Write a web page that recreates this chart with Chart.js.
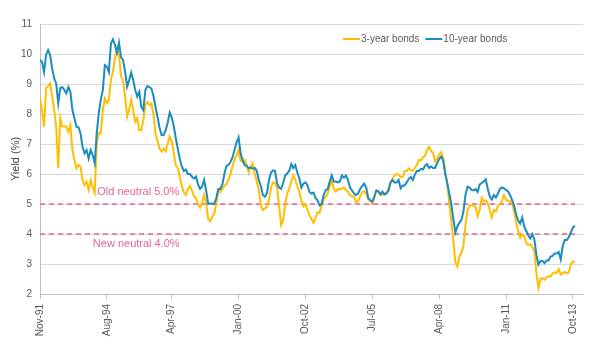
<!DOCTYPE html>
<html lang="en">
<head>
    <meta charset="UTF-8">
    <title>3-year and 10-year bond yields</title>
    <script src="https://cdn.jsdelivr.net/npm/chart.js"></script>
    <style>
        html, body { margin: 0; padding: 0; background: #fff; }
        #wrap { width: 600px; height: 343px; }
    </style>
</head>
<body>
    <div id="wrap"><canvas id="yieldChart" width="600" height="343"></canvas></div>
    <script>
        // months counted from Nov-91 (0) to Nov-13 (264)
        var tickMonths = [0, 33, 65, 98, 131, 164, 197, 230, 263];
        var tickLabels = ['Nov-91', 'Aug-94', 'Apr-97', 'Jan-00', 'Oct-02', 'Jul-05', 'Apr-08', 'Jan-11', 'Oct-13'];

        var tenYear = [
            9.80, 9.74, 9.40, 9.97, 10.13, 9.97, 9.52, 9.19, 9.02, 8.36,
            8.86, 8.90, 8.80, 8.69, 8.90, 8.74, 8.13, 7.86, 7.58, 7.56,
            7.36, 6.91, 6.69, 6.80, 6.52, 6.80, 6.63, 6.36, 7.36, 8.02,
            8.47, 8.80, 9.63, 9.58, 9.40, 10.35, 10.49, 10.30, 10.04, 10.38,
            9.89, 9.80, 9.41, 8.91, 9.13, 9.38, 9.13, 8.80, 8.58, 8.74,
            8.24, 8.13, 8.80, 8.93, 8.90, 8.85, 8.60, 8.24, 7.90, 7.55,
            7.30, 7.30, 7.45, 7.70, 8.05, 7.90, 7.60, 7.20, 6.85, 6.50,
            6.25, 6.10, 6.15, 6.00, 6.00, 5.91, 5.85, 5.91, 5.65, 5.50,
            5.58, 5.80, 5.45, 5.00, 5.02, 5.02, 5.00, 5.20, 5.50, 5.50,
            5.65, 6.00, 6.27, 6.30, 6.40, 6.55, 6.80, 7.05, 7.22, 6.70,
            6.45, 6.30, 6.27, 6.19, 6.22, 6.18, 6.20, 6.10, 5.80, 5.60,
            5.30, 5.24, 5.36, 5.80, 6.05, 6.12, 6.10, 5.70, 5.55, 5.50,
            5.70, 5.95, 6.02, 6.10, 6.33, 6.20, 6.30, 6.05, 5.85, 5.55,
            5.68, 5.72, 5.63, 5.40, 5.35, 5.38, 5.20, 5.12, 4.95, 5.00,
            5.30, 5.46, 5.50, 5.75, 5.95, 5.75, 5.75, 5.72, 5.75, 5.95,
            5.88, 5.95, 5.80, 5.55, 5.45, 5.35, 5.30, 5.35, 5.50, 5.60,
            5.68, 5.55, 5.20, 5.13, 5.08, 5.25, 5.45, 5.42, 5.32, 5.41,
            5.32, 5.35, 5.45, 5.72, 5.80, 5.72, 5.72, 5.80, 5.52, 5.62,
            5.62, 5.72, 5.84, 5.90, 5.80, 5.98, 6.10, 6.10, 6.17, 6.15,
            6.27, 6.33, 6.20, 6.25, 6.20, 6.20, 6.36, 6.50, 6.58, 6.45,
            6.00, 5.70, 5.35, 5.00, 4.50, 4.05, 4.25, 4.38, 4.47, 4.75,
            5.30, 5.58, 5.55, 5.47, 5.45, 5.50, 5.40, 5.65, 5.70, 5.75,
            5.82, 5.50, 5.25, 5.15, 5.30, 5.22, 5.35, 5.50, 5.55, 5.52,
            5.47, 5.42, 5.30, 5.13, 4.95, 4.65, 4.45, 4.35, 4.55, 4.25,
            4.10, 3.95, 3.85, 4.00, 3.82, 3.30, 2.98, 3.10, 3.10, 3.03,
            3.12, 3.12, 3.25, 3.27, 3.35, 3.35, 3.40, 3.15, 3.60, 3.80,
            3.80, 3.90, 4.05, 4.22, 4.27
        ];

        var threeYear = [
            8.52, 8.13, 7.58, 8.86, 8.93, 9.02, 8.58, 8.13, 7.58, 6.19,
            7.86, 7.58, 7.58, 7.58, 7.41, 7.63, 6.80, 6.47, 6.19, 6.30,
            6.24, 5.80, 5.63, 5.74, 5.47, 5.80, 5.58, 5.38, 7.02, 7.36,
            7.36, 8.13, 8.52, 8.36, 8.47, 9.13, 9.41, 9.86, 10.19, 9.97,
            9.24, 9.13, 8.58, 7.91, 8.13, 8.47, 8.13, 7.74, 7.86, 7.47,
            7.47, 7.80, 8.30, 8.40, 8.30, 8.35, 8.00, 7.35, 7.10, 6.85,
            6.75, 6.85, 6.75, 7.00, 7.25, 7.10, 6.69, 6.30, 6.20, 5.90,
            5.60, 5.40, 5.30, 5.50, 5.60, 5.45, 5.25, 5.20, 5.00, 4.88,
            5.05, 5.30, 5.05, 4.50, 4.42, 4.58, 4.66, 5.00, 5.45, 5.40,
            5.50, 5.60, 5.67, 5.80, 6.00, 6.25, 6.50, 6.60, 6.80, 6.45,
            6.40, 6.47, 6.30, 6.05, 6.25, 6.36, 6.00, 5.75, 5.47, 4.95,
            4.80, 4.86, 4.90, 5.13, 5.55, 5.72, 5.70, 5.55, 4.95, 4.30,
            4.45, 5.00, 5.35, 5.50, 5.75, 5.95, 5.80, 5.60, 5.40, 5.10,
            4.92, 5.00, 4.80, 4.62, 4.50, 4.38, 4.55, 4.72, 4.70, 4.95,
            5.15, 5.24, 5.35, 5.60, 5.78, 5.50, 5.41, 5.50, 5.48, 5.52,
            5.55, 5.47, 5.40, 5.30, 5.25, 5.25, 5.05, 5.10, 5.25, 5.40,
            5.42, 5.35, 5.15, 5.10, 5.02, 5.20, 5.45, 5.42, 5.30, 5.30,
            5.35, 5.38, 5.50, 5.72, 5.85, 5.95, 6.00, 5.97, 5.90, 5.90,
            6.10, 6.10, 6.18, 6.13, 6.10, 6.20, 6.30, 6.47, 6.45, 6.55,
            6.60, 6.80, 6.90, 6.78, 6.70, 6.42, 6.50, 6.65, 6.72, 6.55,
            6.10, 5.65, 5.05, 4.40, 3.80, 3.05, 2.91, 3.25, 3.38, 3.60,
            4.30, 4.80, 4.95, 4.95, 4.95, 4.90, 4.60, 4.80, 5.20, 5.08,
            5.13, 5.03, 4.80, 4.55, 4.80, 4.75, 4.93, 5.00, 5.10, 5.30,
            5.13, 5.12, 5.08, 5.03, 4.75, 4.40, 4.10, 3.88, 3.98, 3.92,
            3.70, 3.63, 3.66, 3.55, 3.42, 2.70, 2.20, 2.50, 2.53, 2.47,
            2.55, 2.60, 2.58, 2.68, 2.72, 2.70, 2.83, 2.65, 2.70, 2.74,
            2.69, 2.72, 3.00, 3.07, 3.08
        ];

        var oldNeutral = 5.0;
        var newNeutral = 4.0;

        var gold = '#ffbf00';
        var blue = '#1a8cbe';
        var pink = '#e8629b';
        var grey = '#595959';
        var font = "'Liberation Sans', Arial, sans-serif";

        function toPoints(values) {
            return values.map(function (v, i) { return { x: i, y: v }; });
        }
        function flatLine(v) {
            return [{ x: 0, y: v }, { x: tenYear.length - 1, y: v }];
        }

        // legend + neutral-rate captions
        var extras = {
            id: 'extras',
            afterDatasetsDraw: function (chart) {
                var ctx = chart.ctx;
                var xs = chart.scales.x, ys = chart.scales.y;
                ctx.save();
                ctx.font = '11px ' + font;
                ctx.fillStyle = pink;
                ctx.textAlign = 'center';
                ctx.textBaseline = 'middle';
                ctx.fillText('Old neutral ' + oldNeutral.toFixed(1) + '%', xs.getPixelForValue(48.5), ys.getPixelForValue(5.4));
                ctx.fillText('New neutral ' + newNeutral.toFixed(1) + '%', xs.getPixelForValue(47.5), ys.getPixelForValue(3.67));

                var items = [['3-year bonds', gold], ['10-year bonds', blue]];
                var x = 343, y = 39;
                ctx.font = '10px ' + font;
                ctx.textAlign = 'left';
                items.forEach(function (it) {
                    ctx.strokeStyle = it[1];
                    ctx.lineWidth = 2;
                    ctx.beginPath();
                    ctx.moveTo(x, y);
                    ctx.lineTo(x + 17, y);
                    ctx.stroke();
                    ctx.fillStyle = grey;
                    ctx.fillText(it[0], x + 18, y);
                    x += 18 + ctx.measureText(it[0]).width + 6;
                });
                ctx.restore();
            }
        };

        var ctx = document.getElementById('yieldChart').getContext('2d');
        var chart = new Chart(ctx, {
            type: 'line',
            data: {
                datasets: [
                    { label: '10-year bonds', data: toPoints(tenYear), borderColor: blue, borderWidth: 2, order: 0 },
                    { label: '3-year bonds', data: toPoints(threeYear), borderColor: gold, borderWidth: 2, order: 1 },
                    { label: 'Old neutral', data: flatLine(oldNeutral), borderColor: pink, borderWidth: 1.5, borderDash: [5, 4], order: 2 },
                    { label: 'New neutral', data: flatLine(newNeutral), borderColor: pink, borderWidth: 1.5, borderDash: [5, 4], order: 2 }
                ]
            },
            options: {
                responsive: false,
                animation: false,
                events: [],
                elements: { point: { radius: 0 }, line: { tension: 0, fill: false } },
                layout: { padding: { top: 24, right: 17, left: 0, bottom: 0 } },
                plugins: { legend: { display: false }, tooltip: { enabled: false } },
                scales: {
                    x: {
                        type: 'linear',
                        min: 0,
                        max: 268,
                        afterBuildTicks: function (scale) {
                            scale.ticks = tickMonths.map(function (m) { return { value: m }; });
                        },
                        afterFit: function (scale) { scale.height = 49; },
                        ticks: {
                            autoSkip: false,
                            minRotation: 90,
                            maxRotation: 90,
                            padding: 5,
                            color: grey,
                            font: { family: font, size: 10 },
                            callback: function (v) { return tickLabels[tickMonths.indexOf(v)]; }
                        },
                        grid: { drawOnChartArea: false, drawTicks: true, tickLength: 5, color: '#bfbfbf' },
                        border: { color: '#bfbfbf' }
                    },
                    y: {
                        min: 2,
                        max: 11,
                        afterFit: function (scale) { scale.width = 40; },
                        ticks: {
                            stepSize: 1,
                            padding: 8,
                            color: grey,
                            font: { family: font, size: 10 }
                        },
                        grid: { color: '#d9d9d9', drawTicks: false },
                        border: { color: '#bfbfbf' },
                        title: {
                            display: true,
                            text: 'Yield (%)',
                            color: '#404040',
                            font: { family: font, size: 11 },
                            padding: { top: 9, bottom: 0 }
                        }
                    }
                }
            },
            plugins: [extras]
        });
    </script>
</body>
</html>
